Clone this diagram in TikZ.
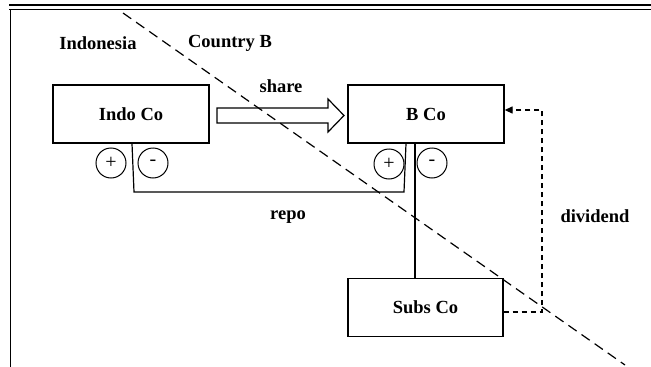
\documentclass[tikz,border=0pt]{standalone}
\usepackage{fontspec}
\setmainfont{Liberation Serif}
\usetikzlibrary{arrows.meta}
\begin{document}
\begin{tikzpicture}[x=1pt,y=-1pt,
  lbl/.style={font=\fontsize{18.5}{20}\selectfont\bfseries, inner sep=0pt},
  entity/.style={draw, line width=1.3pt, minimum width=156pt, minimum height=58pt,
                 font=\fontsize{18.5}{20}\selectfont\bfseries, inner sep=0pt},
  sign/.style={draw, circle, line width=1pt, minimum size=30pt, inner sep=0pt,
               font=\fontsize{20}{22}\selectfont},
  link/.style={line width=1.2pt},
  border/.style={line width=1pt},
  frontier/.style={line width=1.2pt, dash pattern=on 10pt off 6pt},
  divline/.style={line width=1.2pt, dash pattern=on 5pt off 4pt}
]
\useasboundingbox (0,0) rectangle (651,367);

% page rules
\draw[line width=2.8pt] (9,5) -- (651,5);
\draw[border] (9,9.5) -- (651,9.5);
\draw[border] (10,9.5) -- (10,367);

% country labels
\node[lbl] (indonesia) at (98,43) {Indonesia};
\node[lbl] (countryb) at (230,43) {Country B};

% companies
\node[entity] (indo) at (131,114) {Indo Co};
\node[entity] (bco) at (426,114) {B Co};
\node[entity, minimum width=155pt] (subs) at (425.5,307.5) {Subs Co};

% share transfer (block arrow)
\coordinate (sA) at (217,115.5);
\coordinate (sB) at (344,115.5);
\draw[link, fill=white] (sA) ++(0,-7.5) -- ++(111,0) -- ++(0,-9) -- (sB)
  -- ++(-16,16.5) -- ++(0,-9) -- ++(-111,0) -- cycle;
\node[lbl] (share) at (281,86) {share};

% plus / minus markers
\node[sign] (ip) at (111,163) {+};
\node[sign] (im) at (153,163) {-};
\node[sign] (bp) at (389,164) {+};
\node[sign] (bm) at (432,163) {-};

% repo bracket
\coordinate (rl) at (134,192);
\coordinate (rr) at (404,192);
\draw[link] ([xshift=1pt]indo.south) -- (rl) -- (rr) -- (bco.south -| 406,0);
\node[lbl] (repo) at (288,217) {repo};

% ownership line B Co -> Subs Co
\coordinate (vx) at (415,0);
\draw[link] (bco.south -| vx) -- (subs.north -| vx);

% dividend flow
\coordinate (dbot) at (542,312);
\coordinate (dtop) at (542,110);
\draw[divline, -{Triangle[length=8pt,width=7pt]}]
  (subs.east |- dbot) -- (dbot) -- (dtop) -- (bco.east |- dtop);
\node[lbl] (dividend) at (595,216) {dividend};

% border between the two countries
\coordinate (f1) at (123,13);
\coordinate (f2) at (625,365);
\draw[frontier] (f1) -- (f2);
\end{tikzpicture}
\end{document}
